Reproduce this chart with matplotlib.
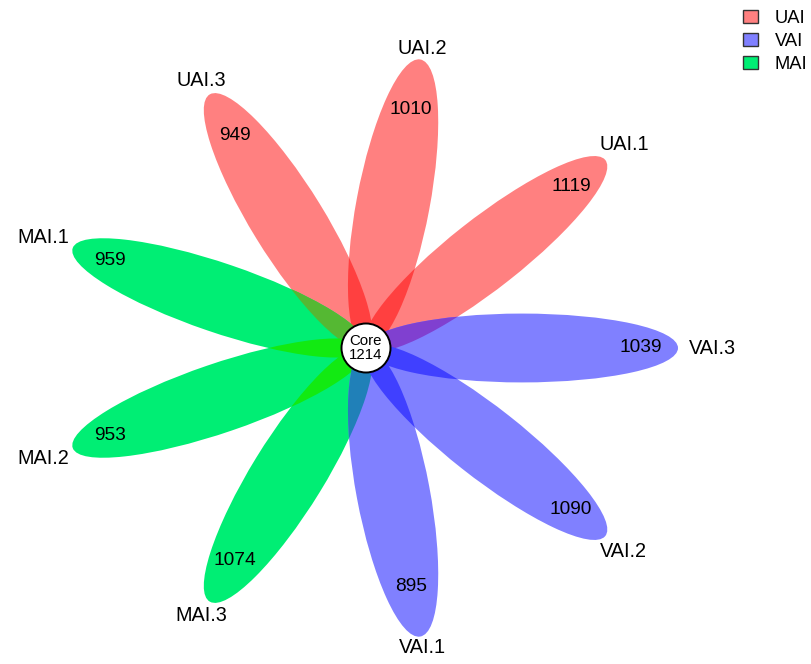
import numpy as np
import matplotlib
matplotlib.use("Agg")
import matplotlib.pyplot as plt
from matplotlib.patches import Ellipse, Patch

plt.rcParams['font.family'] = ['Liberation Sans', 'DejaVu Sans']

# ---- data ----
petal_labels = ["UAI.1", "UAI.2", "UAI.3", "MAI.1", "MAI.2", "MAI.3", "VAI.1", "VAI.2", "VAI.3"]
petal_values = [1119, 1010, 949, 959, 953, 1074, 895, 1090, 1039]
petal_groups = ["UAI", "UAI", "UAI", "MAI", "MAI", "MAI", "VAI", "VAI", "VAI"]
core_label = "Core"
core_value = 1214
legend_groups = ["UAI", "VAI", "MAI"]

# ---- style ----
single_color = {"UAI": "#FF8080", "VAI": "#8080FF", "MAI": "#00EE74"}
pair_color = {
    frozenset(["UAI"]): "#FF4040",
    frozenset(["VAI"]): "#4040FF",
    frozenset(["MAI"]): "#12EA12",
    frozenset(["UAI", "MAI"]): "#55B833",
    frozenset(["VAI", "MAI"]): "#2080B8",
    frozenset(["UAI", "VAI"]): "#8040D0",
}

W, H = 811, 664
fig = plt.figure(figsize=(W / 100, H / 100), dpi=100)
ax = fig.add_axes([0, 0, 1, 1])
ax.set_axis_off()

# coordinate frame: core at origin, petal length 1
cx_px, cy_px = 366, 348
sx, sy = 312.0, 293.0
ax.set_xlim(-cx_px / sx, (W - cx_px) / sx)
ax.set_ylim(-(H - cy_px) / sy, cy_px / sy)

n = len(petal_labels)
# petals: UAI.1 at 40 deg, then counter-clockwise in 40 deg steps
angles = [(40.0 * (i + 1)) % 360 for i in range(n)]

half_len = 0.5
petal_w = 0.235


def make_ellipse(theta, **kw):
    t = np.deg2rad(theta)
    return Ellipse((half_len * np.cos(t), half_len * np.sin(t)), 2 * half_len, petal_w,
                   angle=theta, transform=ax.transData, **kw)

# single petals
for g, th in zip(petal_groups, angles):
    ax.add_patch(make_ellipse(th, facecolor=single_color[g], edgecolor="none", zorder=1))

# pairwise overlaps
for i in range(n):
    for j in range(i + 1, n):
        col = pair_color[frozenset([petal_groups[i], petal_groups[j]])]
        p = make_ellipse(angles[i], facecolor=col, edgecolor="none", zorder=2)
        clip = make_ellipse(angles[j], facecolor="none", edgecolor="none")
        ax.add_patch(p)
        p.set_clip_path(clip)

# numbers and labels
for lab, val, th in zip(petal_labels, petal_values, angles):
    t = np.deg2rad(th)
    c2 = np.cos(t) ** 2
    rn = 0.825 + 0.055 * c2
    ax.text(rn * np.cos(t), rn * np.sin(t), str(val), fontsize=13.8, ha="center", va="center", zorder=5)
    rl = 1.035 + 0.075 * c2
    ax.text(rl * np.cos(t), rl * np.sin(t), lab, fontsize=14.3, ha="center", va="center", zorder=5)

# core
ax.add_patch(Ellipse((0, 0), 49 / sx, 49 / sy, facecolor="white", edgecolor="black", lw=1.4, zorder=6))
ax.text(0, 0, f"{core_label}\n{core_value}", fontsize=10.8, ha="center", va="center",
        linespacing=1.0, zorder=7)

# legend
handles = [Patch(facecolor=single_color[g], edgecolor="#333333", lw=1.0, label=g) for g in legend_groups]
fig.legend(handles=handles, loc="upper left", bbox_to_anchor=(743 / W, 1 - 10 / H), frameon=False,
           fontsize=13.2, handlelength=0.82, handleheight=0.72, handletextpad=0.9,
           labelspacing=0.33, borderpad=0, borderaxespad=0)

fig.savefig("out.png", dpi=100)
